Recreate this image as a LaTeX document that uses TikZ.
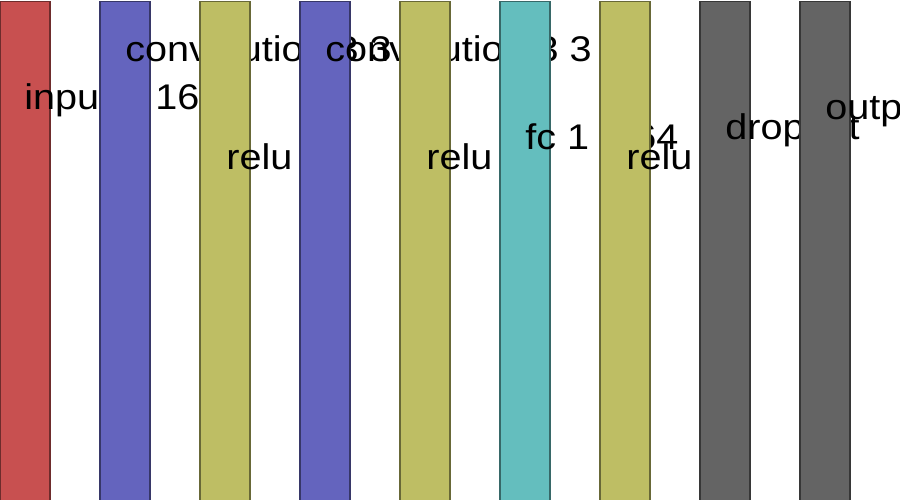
\documentclass[tikz,border=0pt]{standalone}
\usepackage{fontspec}
\setmainfont{Liberation Sans}[FakeStretch=1.11]

\definecolor{inred}{HTML}{C85050}
\definecolor{convblue}{HTML}{6464BE}
\definecolor{reluolive}{HTML}{BEBE64}
\definecolor{fccyan}{HTML}{64BEBE}
\definecolor{dropgray}{HTML}{646464}

\begin{document}
\begin{tikzpicture}[
    x=0.02cm, y=-0.02cm,
    layer/.style={draw=#1!55!black, fill=#1, line width=0.7pt, minimum width=1cm, minimum height=10.6cm, inner sep=0pt, anchor=north},
    tag/.style={anchor=base west, inner sep=0pt, font=\fontsize{20.3}{24}\selectfont}
]

\clip (0,0) rectangle (900,500);

\node[layer=inred] (input) at (25,1) {};
\node[tag] (inputtag) at (24,110) {input × 16};

\node[layer=convblue] (convA) at (125,1) {};
\node[tag] (convAtag) at (125,62) {convolution 3 3};

\node[layer=reluolive] (reluA) at (225,1) {};
\node[tag] (reluAtag) at (226,170) {relu};

\node[layer=convblue] (convB) at (325,1) {};
\node[tag] (convBtag) at (325,62) {convolution 3 3};

\node[layer=reluolive] (reluB) at (425,1) {};
\node[tag] (reluBtag) at (426,170) {relu};

\node[layer=fccyan] (fc) at (525,1) {};
\node[tag] (fctag) at (525,150) {fc 1 × 64};

\node[layer=reluolive] (reluC) at (625,1) {};
\node[tag] (reluCtag) at (626,170) {relu};

\node[layer=dropgray] (drop) at (725,1) {};
\node[tag] (droptag) at (725,140) {dropout};

\node[layer=dropgray] (output) at (825,1) {};
\node[tag] (outputtag) at (825,120) {output};

\end{tikzpicture}
\end{document}
